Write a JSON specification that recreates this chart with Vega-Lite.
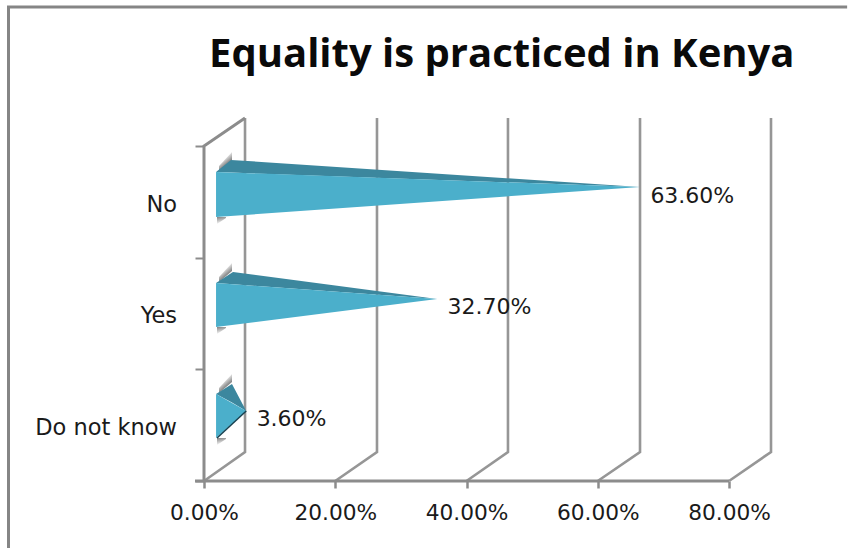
{
  "$schema": "https://vega.github.io/schema/vega-lite/v6.json",
  "width": 567,
  "height": 363,
  "autosize": "none",
  "padding": {"left": 204, "top": 118, "right": 77, "bottom": 67},
  "background": "white",
  "config": {"view": {"stroke": null}},
  "datasets": {
    "heading": [
      {"heading": "Equality is practiced in Kenya", "share": 0.0076, "level": 3.707}
    ],
    "answers": [
      {"category": "No", "share": 0.636, "level": 2.5},
      {"category": "Yes", "share": 0.327, "level": 1.5},
      {"category": "Do not know", "share": 0.036, "level": 0.5}
    ],
    "frame": [
      {"path": "frame", "step": 0, "share": -0.2979, "level": -0.6},
      {"path": "frame", "step": 1, "share": -0.2979, "level": 4.245},
      {"path": "frame", "step": 2, "share": 0.98, "level": 4.245}
    ],
    "walls": [
      {"path": "left", "step": 0, "share": 0, "level": 0},
      {"path": "left", "step": 1, "share": 0, "level": 3},
      {"path": "left", "step": 2, "share": 0.0625, "level": 3.2507},
      {"path": "base", "step": 0, "share": -0.0137, "level": 0},
      {"path": "base", "step": 1, "share": 0.8, "level": 0}
    ],
    "grid": [
      {"path": "g0", "step": 0, "share": 0, "level": 0},
      {"path": "g0", "step": 1, "share": 0.0625, "level": 0.26},
      {"path": "g0", "step": 2, "share": 0.0625, "level": 3.2507},
      {"path": "g20", "step": 0, "share": 0.2, "level": 0},
      {"path": "g20", "step": 1, "share": 0.2636, "level": 0.26},
      {"path": "g20", "step": 2, "share": 0.2636, "level": 3.2507},
      {"path": "g40", "step": 0, "share": 0.4, "level": 0},
      {"path": "g40", "step": 1, "share": 0.4632, "level": 0.26},
      {"path": "g40", "step": 2, "share": 0.4632, "level": 3.2507},
      {"path": "g60", "step": 0, "share": 0.6, "level": 0},
      {"path": "g60", "step": 1, "share": 0.6644, "level": 0.26},
      {"path": "g60", "step": 2, "share": 0.6644, "level": 3.2507},
      {"path": "g80", "step": 0, "share": 0.8, "level": 0},
      {"path": "g80", "step": 1, "share": 0.864, "level": 0.26},
      {"path": "g80", "step": 2, "share": 0.864, "level": 3.2507}
    ],
    "shadowsUpper": [
      {"category": "No", "share": 0.0229, "level": 2.821, "level2": 2.776},
      {"category": "No", "share": 0.0427, "level": 2.946, "level2": 2.875},
      {"category": "Yes", "share": 0.0229, "level": 1.827, "level2": 1.782},
      {"category": "Yes", "share": 0.0427, "level": 1.952, "level2": 1.881},
      {"category": "Do not know", "share": 0.0229, "level": 0.833, "level2": 0.788},
      {"category": "Do not know", "share": 0.0427, "level": 0.958, "level2": 0.887}
    ],
    "shadowsLower": [
      {"category": "No", "share": 0.0198, "level": 2.364, "level2": 2.301},
      {"category": "No", "share": 0.0335, "level": 2.364, "level2": 2.355},
      {"category": "Yes", "share": 0.0198, "level": 1.379, "level2": 1.316},
      {"category": "Yes", "share": 0.0335, "level": 1.379, "level2": 1.37},
      {"category": "Do not know", "share": 0.0198, "level": 0.385, "level2": 0.322},
      {"category": "Do not know", "share": 0.0335, "level": 0.385, "level2": 0.376}
    ],
    "pyramids": [
      {"category": "No", "face": "top", "share": -0.01, "level": 2.767, "level2": 2.767},
      {"category": "No", "face": "top", "share": 0.0128, "level": 2.875, "level2": 2.762},
      {"category": "No", "face": "top", "share": 0.636, "level": 2.633, "level2": 2.633},
      {"category": "Yes", "face": "top", "share": -0.01, "level": 1.773, "level2": 1.773},
      {"category": "Yes", "face": "top", "share": 0.0158, "level": 1.872, "level2": 1.762},
      {"category": "Yes", "face": "top", "share": 0.327, "level": 1.63, "level2": 1.63},
      {"category": "Do not know", "face": "top", "share": -0.01, "level": 0.779, "level2": 0.779},
      {"category": "Do not know", "face": "top", "share": 0.0143, "level": 0.869, "level2": 0.703},
      {"category": "Do not know", "face": "top", "share": 0.036, "level": 0.627, "level2": 0.627},
      {"category": "No", "face": "front", "share": -0.01, "level": 2.767, "level2": 2.364},
      {"category": "No", "face": "front", "share": 0.636, "level": 2.633, "level2": 2.633},
      {"category": "Yes", "face": "front", "share": -0.01, "level": 1.773, "level2": 1.379},
      {"category": "Yes", "face": "front", "share": 0.327, "level": 1.63, "level2": 1.63},
      {"category": "Do not know", "face": "front", "share": -0.01, "level": 0.779, "level2": 0.385},
      {"category": "Do not know", "face": "front", "share": 0.036, "level": 0.627, "level2": 0.627}
    ],
    "edge": [
      {"step": 0, "share": -0.0085, "level": 0.385},
      {"step": 1, "share": 0.036, "level": 0.627}
    ]
  },
  "encoding": {
    "x": {
      "field": "share",
      "type": "quantitative",
      "scale": {"domain": [0, 0.864], "nice": false, "zero": false},
      "axis": {
        "title": null,
        "values": [0, 0.2, 0.4, 0.6, 0.8],
        "format": ".2%",
        "domain": false,
        "grid": false,
        "tickSize": 7,
        "tickWidth": 2.5,
        "tickColor": "#8c8c8c",
        "labelFont": "DejaVu Sans",
        "labelFontSize": 21.7,
        "labelColor": "#1a1a1a",
        "labelPadding": 14,
        "labelOverlap": false,
        "labelFlush": false
      }
    },
    "y": {
      "field": "level",
      "type": "quantitative",
      "scale": {"domain": [0, 3.2507], "nice": false, "zero": false},
      "axis": {
        "title": null,
        "values": [0, 1, 2, 3],
        "labels": false,
        "domain": false,
        "grid": false,
        "tickSize": 9,
        "tickWidth": 2,
        "tickColor": "#8c8c8c"
      }
    }
  },
  "layer": [
    {
      "data": {"name": "frame"},
      "mark": {"type": "line", "color": "#858585", "strokeWidth": 3, "clip": false},
      "encoding": {"detail": {"field": "path"}, "order": {"field": "step"}}
    },
    {
      "data": {"name": "grid"},
      "mark": {"type": "line", "color": "#969696", "strokeWidth": 2.6},
      "encoding": {"detail": {"field": "path"}, "order": {"field": "step"}}
    },
    {
      "data": {"name": "walls"},
      "mark": {"type": "line", "color": "#8c8c8c", "strokeWidth": 3},
      "encoding": {"detail": {"field": "path"}, "order": {"field": "step"}}
    },
    {
      "data": {"name": "shadowsUpper"},
      "mark": {
        "type": "area",
        "orient": "vertical",
        "color": {
          "gradient": "linear",
          "x1": 0.55, "y1": 0.72, "x2": 0.3, "y2": 0.3,
          "stops": [{"offset": 0, "color": "#777777"}, {"offset": 1, "color": "#ffffff"}]
        }
      },
      "encoding": {"y2": {"field": "level2"}, "detail": {"field": "category"}}
    },
    {
      "data": {"name": "shadowsLower"},
      "mark": {
        "type": "area",
        "orient": "vertical",
        "color": {
          "gradient": "linear",
          "x1": 0.1, "y1": 0, "x2": 0.3, "y2": 1,
          "stops": [{"offset": 0, "color": "#858585"}, {"offset": 1, "color": "#ffffff"}]
        }
      },
      "encoding": {"y2": {"field": "level2"}, "detail": {"field": "category"}}
    },
    {
      "data": {"name": "pyramids"},
      "mark": {"type": "area", "orient": "vertical", "xOffset": 18.6},
      "encoding": {
        "y2": {"field": "level2"},
        "detail": {"field": "category"},
        "color": {
          "field": "face",
          "type": "nominal",
          "scale": {"domain": ["top", "front"], "range": ["#3c879e", "#4bafcb"]},
          "legend": null
        }
      }
    },
    {
      "data": {"name": "edge"},
      "mark": {"type": "line", "color": "#17404f", "strokeWidth": 1.5, "xOffset": 18.6},
      "encoding": {"order": {"field": "step"}}
    },
    {
      "data": {"name": "answers"},
      "mark": {"type": "text", "align": "left", "baseline": "middle", "dx": 29, "dy": -6, "font": "DejaVu Sans", "fontSize": 22, "color": "#1a1a1a"},
      "encoding": {"text": {"field": "share", "type": "quantitative", "format": ".2%"}}
    },
    {
      "data": {"name": "answers"},
      "mark": {"type": "text", "align": "right", "baseline": "middle", "dx": -27, "dy": 3, "font": "DejaVu Sans", "fontSize": 22.5, "color": "#1a1a1a"},
      "encoding": {
        "x": {"datum": 0, "type": "quantitative"},
        "text": {"field": "category", "type": "nominal"}
      }
    },
    {
      "data": {"name": "heading"},
      "mark": {"type": "text", "align": "left", "baseline": "alphabetic", "font": "Open Sans", "fontWeight": "bold", "fontSize": 40, "color": "#0a0a0a"},
      "encoding": {"text": {"field": "heading", "type": "nominal"}}
    }
  ]
}
